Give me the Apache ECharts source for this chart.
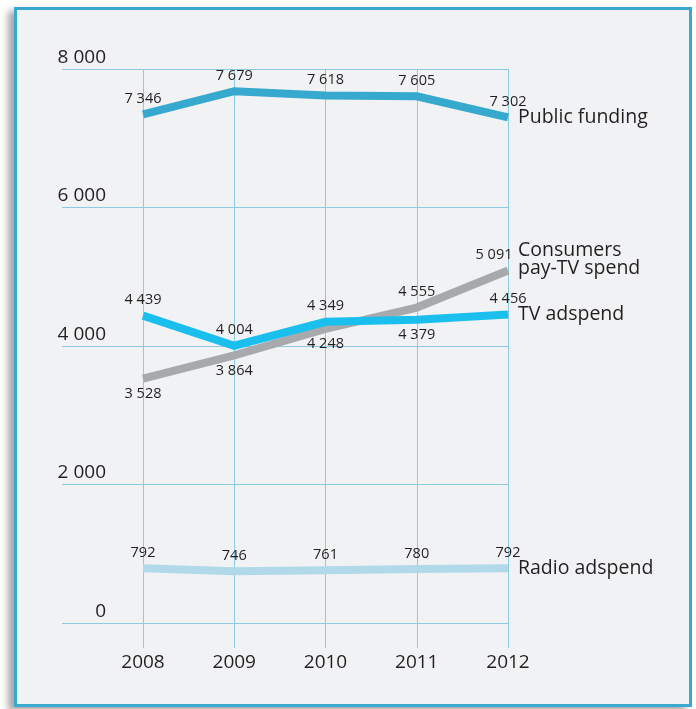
<!DOCTYPE html>
<html>
<head>
<meta charset="utf-8">
<title>Funding</title>
<script src="https://cdn.jsdelivr.net/npm/echarts@6/dist/echarts.min.js"></script>
<style>
body{margin:0;background:#fff;}
#frame{position:absolute;left:14px;top:7px;width:672px;height:694px;border:3px solid #3aa8d0;background:#f1f2f4;box-shadow:-6px 4px 7px rgba(0,0,0,0.35);}
#main{position:absolute;left:0;top:0;width:696px;height:709px;}
</style>
</head>
<body>
<div id="frame"></div>
<div id="main"></div>
<script>
// data
var years = ['2008', '2009', '2010', '2011', '2012'];
var publicFunding = [7346, 7679, 7618, 7605, 7302];
var payTvSpend = [3528, 3864, 4248, 4555, 5091];
var tvAdspend = [4439, 4004, 4349, 4379, 4456];
var radioAdspend = [792, 746, 761, 780, 792];
var yMin = 0, yMax = 8000, yStep = 2000;

// where the value labels sit (styling, not data)
var pubPos = ['top', 'top', 'top', 'top', 'top'];
var payPos = ['bottom', 'bottom', 'bottom', 'top', 'top'];
var tvPos = ['top', 'top', 'top', 'bottom', 'top'];
var radioPos = ['top', 'top', 'top', 'top', 'top'];

var gridColor = '#8dcbe3';
var textColor = '#231f20';
var font = '"Open Sans", sans-serif';

function fmt(v) {
    return String(v).replace(/\B(?=(\d{3})+(?!\d))/g, ' ');
}
function items(values, pos) {
    return values.map(function (v, i) {
        var it = { value: v, label: { position: pos[i] } };
        if (i === values.length - 1 && pos === payPos) it.label.offset = [-14, 0];
        return it;
    });
}
function line(name, endText, color, values, pos, endOffset) {
    return {
        name: name,
        type: 'line',
        data: items(values, pos),
        color: color,
        symbol: 'circle',
        symbolSize: 2,
        showSymbol: true,
        itemStyle: { color: 'rgba(0,0,0,0)', borderWidth: 0 },
        lineStyle: { color: color, width: 8, cap: 'butt', join: 'miter' },
        label: {
            show: true,
            distance: 7,
            fontSize: 14.5,
            fontFamily: font,
            color: textColor,
            formatter: function (p) { return fmt(p.value); }
        },
        endLabel: {
            show: true,
            formatter: endText,
            distance: 10,
            offset: endOffset || [0, 0],
            fontSize: 19.5,
            lineHeight: 18,
            fontFamily: font,
            color: textColor
        },
        emphasis: { disabled: true },
        z: 3
    };
}

var chart = echarts.init(document.getElementById('main'));
chart.setOption({
    animation: false,
    backgroundColor: 'transparent',
    grid: { left: 143, right: 188, top: 69, bottom: 86, outerBoundsMode: 'none' },
    xAxis: {
        type: 'category',
        data: years,
        boundaryGap: false,
        axisLine: { show: false },
        axisTick: { show: true, length: 25, lineStyle: { color: gridColor } },
        axisLabel: { margin: 30, fontSize: 19, fontFamily: font, color: textColor },
        splitLine: { show: true, lineStyle: { color: gridColor, width: 1 } }
    },
    yAxis: {
        type: 'value',
        min: yMin,
        max: yMax,
        interval: yStep,
        axisLine: { show: false },
        axisTick: { show: true, length: 81, lineStyle: { color: gridColor } },
        axisLabel: {
            margin: 37,
            align: 'right',
            verticalAlign: 'bottom',
            padding: [0, 0, 2, 0],
            fontSize: 19,
            fontFamily: font,
            color: textColor,
            formatter: fmt
        },
        splitLine: { lineStyle: { color: gridColor, width: 1 } }
    },
    series: [
        line('Radio adspend', 'Radio adspend', '#b2d9ea', radioAdspend, radioPos),
        line('Consumers pay-TV spend', 'Consumers\npay-TV spend', '#a7a9ac', payTvSpend, payPos, [0, -11]),
        line('TV adspend', 'TV adspend', '#1bbfed', tvAdspend, tvPos),
        line('Public funding', 'Public funding', '#37a9cf', publicFunding, pubPos)
    ]
});
</script>
</body>
</html>
